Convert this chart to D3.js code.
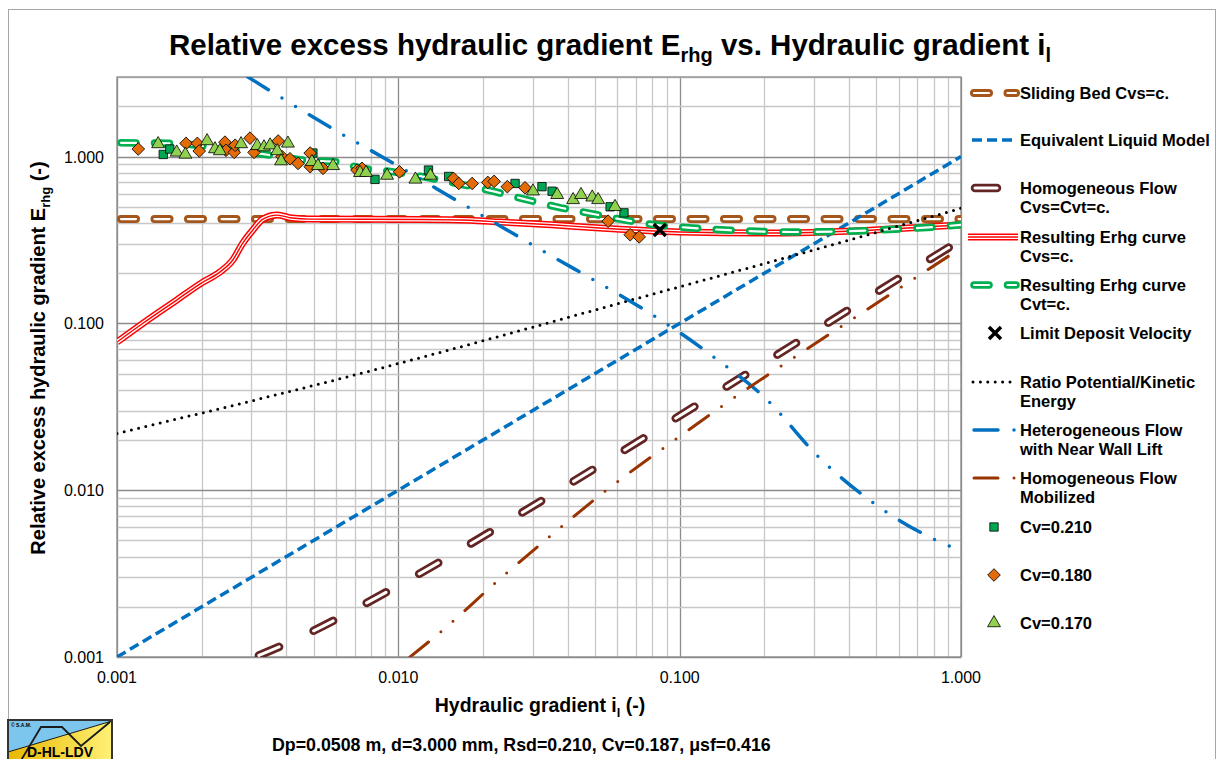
<!DOCTYPE html>
<html><head><meta charset="utf-8">
<script src="https://cdn.jsdelivr.net/npm/d3@7"></script>
<style>body{margin:0;background:#fff;overflow:hidden} text{font-family:"Liberation Sans",Arial,sans-serif;}</style>
</head><body><svg id="c" width="1218" height="759"></svg>
<script>
// ---------- data ----------
const xTickValues = [0.001, 0.01, 0.1, 1];
const xTickLabels = ["0.001", "0.010", "0.100", "1.000"];
const yTickValues = [0.001, 0.01, 0.1, 1];
const yTickLabels = ["0.001", "0.010", "0.100", "1.000"];

const slidingBed = [[0.001, 0.422], [1, 0.422]];
const equivalentLiquid = [[0.001, 0.001], [1, 1]];
const homogeneousCvs = [[0.0031, 0.001], [0.00412, 0.00123], [0.00991, 0.00266], [0.034, 0.0091], [0.1183, 0.0333], [0.914, 0.288], [1, 0.316]];
const resultingCvs = [[0.001, 0.0773], [0.00124, 0.1005], [0.00163, 0.138], [0.002, 0.175], [0.00232, 0.203], [0.00258, 0.24], [0.0028, 0.303], [0.00304, 0.363], [0.0033, 0.422], [0.00371, 0.446], [0.00419, 0.428], [0.00485, 0.422], [0.012, 0.42], [0.018, 0.415], [0.023, 0.405], [0.035, 0.39], [0.052, 0.373], [0.1, 0.353], [0.2, 0.348], [0.475, 0.362], [1, 0.39]];
const resultingCvt = [[0.001, 1.21], [0.0016, 1.2], [0.0025, 1.1], [0.0035, 1.02], [0.0044, 0.96], [0.0064, 0.92], [0.007, 0.87], [0.0096, 0.81], [0.0126, 0.75], [0.0161, 0.69], [0.0208, 0.63], [0.0276, 0.56], [0.0365, 0.5], [0.047, 0.46], [0.0622, 0.42], [0.0817, 0.39], [0.107, 0.375], [0.15, 0.362], [0.25, 0.353], [0.4, 0.357], [0.6, 0.368], [0.8, 0.378], [1, 0.39]];
const limitDeposit = [[0.085, 0.363]];
const ratioPotKin = [[0.001, 0.0219], [0.00558, 0.0445], [0.0963, 0.163], [0.243, 0.25], [1, 0.49]];
const heterogeneous = [[0.00292, 3.0], [0.00596, 1.44], [0.01, 0.877], [0.01671, 0.526], [0.028, 0.316], [0.1293, 0.0646], [0.205, 0.0347], [0.3076, 0.0162], [0.483, 0.00849], [0.801, 0.00509], [1, 0.00434]];
const homogeneousMob = [[0.011, 0.001], [0.01453, 0.00147], [0.0227, 0.00289], [0.0357, 0.00553], [0.0567, 0.01044], [0.0917, 0.0189], [0.15, 0.0342], [0.247, 0.0603], [0.406, 0.1047], [0.67, 0.182], [1, 0.283]];

const cv210 = [[0.00146, 1.03], [0.00154, 1.11], [0.00497, 1.05], [0.00826, 0.73], [0.0128, 0.83], [0.0151, 0.76], [0.026, 0.69], [0.0324, 0.66], [0.0352, 0.62], [0.0566, 0.50], [0.0634, 0.46]];
const cv180 = [[0.00119, 1.11], [0.00176, 1.20], [0.00193, 1.20], [0.00196, 1.08], [0.00242, 1.22], [0.00244, 1.09], [0.00261, 1.06], [0.00263, 1.17], [0.00297, 1.29], [0.00307, 1.06], [0.00374, 1.24], [0.00386, 1.0], [0.00412, 0.97], [0.0044, 0.91], [0.00486, 1.05], [0.00486, 0.87], [0.0054, 0.85], [0.00713, 0.83], [0.00743, 0.85], [0.0101, 0.81], [0.0157, 0.74], [0.0164, 0.69], [0.0183, 0.69], [0.0208, 0.70], [0.0219, 0.71], [0.0244, 0.66], [0.0282, 0.65], [0.0557, 0.41], [0.0667, 0.34], [0.0718, 0.33]];
const cv170 = [[0.0014, 1.19], [0.00163, 1.06], [0.00175, 1.03], [0.00209, 1.24], [0.00223, 1.11], [0.00232, 1.08], [0.00276, 1.19], [0.00315, 1.16], [0.00333, 1.14], [0.0035, 1.17], [0.00371, 1.08], [0.00383, 0.94], [0.00405, 1.20], [0.00493, 0.93], [0.00518, 0.88], [0.00586, 0.88], [0.00731, 0.80], [0.00768, 0.80], [0.00912, 0.77], [0.0115, 0.73], [0.013, 0.77], [0.0301, 0.62], [0.0367, 0.59], [0.0418, 0.55], [0.0446, 0.59], [0.0489, 0.57], [0.0513, 0.55], [0.0589, 0.50]];

const legendLabels = [
  ["Sliding Bed Cvs=c."], ["Equivalent Liquid Model"], ["Homogeneous Flow", "Cvs=Cvt=c."],
  ["Resulting Erhg curve", "Cvs=c."], ["Resulting Erhg curve", "Cvt=c."], ["Limit Deposit Velocity"],
  ["Ratio Potential/Kinetic", "Energy"], ["Heterogeneous Flow", "with Near Wall Lift"], ["Homogeneous Flow", "Mobilized"],
  ["Cv=0.210"], ["Cv=0.180"], ["Cv=0.170"]
];

// ---------- drawing ----------
const svg = d3.select("#c");
const L = 117, R = 961, T = 77, B = 657;
const x = d3.scaleLog().domain([0.001, 1]).range([L, R]);
const y = d3.scaleLog().domain([0.001, 3]).range([B, T]);

// outer chart border
svg.append("rect").attr("x", 8.5).attr("y", 9.5).attr("width", 1207).attr("height", 760)
  .attr("fill", "none").attr("stroke", "#a6a6a6").attr("stroke-width", 1);

// grid
const grid = svg.append("g");
x.ticks().forEach(v => {
  const major = xTickValues.some(t => Math.abs(t - v) / t < 1e-6);
  grid.append("line").attr("x1", Math.round(x(v)) + 0.5).attr("x2", Math.round(x(v)) + 0.5).attr("y1", T).attr("y2", B)
    .attr("stroke", major ? "#8c8c8c" : "#c8c8c8").attr("stroke-width", 1.3);
});
y.ticks().forEach(v => {
  const major = yTickValues.some(t => Math.abs(t - v) / t < 1e-6);
  grid.append("line").attr("y1", Math.round(y(v)) + 0.5).attr("y2", Math.round(y(v)) + 0.5).attr("x1", L).attr("x2", R)
    .attr("stroke", major ? "#8c8c8c" : "#c8c8c8").attr("stroke-width", 1.3);
});
grid.append("rect").attr("x", L).attr("y", T).attr("width", R - L).attr("height", B - T)
  .attr("fill", "none").attr("stroke", "#8c8c8c").attr("stroke-width", 1.3);

// tick labels
xTickValues.forEach((v, i) => svg.append("text").attr("x", x(v)).attr("y", 683).attr("text-anchor", "middle")
  .attr("font-size", 16).text(xTickLabels[i]));
yTickValues.forEach((v, i) => svg.append("text").attr("x", 104).attr("y", y(v) + 6).attr("text-anchor", "end")
  .attr("font-size", 16).text(yTickLabels[i]));

// clip
svg.append("clipPath").attr("id", "pc").append("rect").attr("x", L).attr("y", T).attr("width", R - L).attr("height", B - T);
const plot = svg.append("g").attr("clip-path", "url(#pc)");

const line = d3.line().x(d => x(d[0])).y(d => y(d[1])).curve(d3.curveMonotoneX);

function drawDouble(g, d, color, ow, iw, dash, offset) {
  g.append("path").attr("d", d).attr("fill", "none").attr("stroke", color).attr("stroke-width", ow)
    .attr("stroke-linecap", "round").attr("stroke-dasharray", dash).attr("stroke-dashoffset", offset || 0);
  g.append("path").attr("d", d).attr("fill", "none").attr("stroke", "#fff").attr("stroke-width", iw)
    .attr("stroke-linecap", "round").attr("stroke-dasharray", dash).attr("stroke-dashoffset", offset || 0);
}
function drawTriple(g, d, color) {
  g.append("path").attr("d", d).attr("fill", "none").attr("stroke", color).attr("stroke-width", 7);
  g.append("path").attr("d", d).attr("fill", "none").attr("stroke", "#fff").attr("stroke-width", 4);
  g.append("path").attr("d", d).attr("fill", "none").attr("stroke", color).attr("stroke-width", 1.4);
}
function drawSimple(g, d, color, w, dash, cap) {
  g.append("path").attr("d", d).attr("fill", "none").attr("stroke", color).attr("stroke-width", w)
    .attr("stroke-dasharray", dash).attr("stroke-linecap", cap || "butt");
}
const C = {
  sliding: "#a5561a", equiv: "#0070c0", homo: "#632523", red: "#ff0000", green: "#00b050",
  ratio: "#000", hetero: "#0070c0", mob: "#993300"
};
const dashDD = "24,16,0,16,0,16";

function sliding(g, d) { drawDouble(g, d, C.sliding, 8, 2.2, "15,18.5", -4); }
function equiv(g, d) { drawSimple(g, d, C.equiv, 3.5, "10,5"); }
function homo(g, d) { drawDouble(g, d, C.homo, 8.5, 3, "22,38", -4); }
function red(g, d) { drawTriple(g, d, C.red); }
function green(g, d) { drawDouble(g, d, C.green, 7.5, 2.2, "15,18.5", -4); }
function ratio(g, d) { drawSimple(g, d, C.ratio, 3, "0,7.4", "round"); }
function hetero(g, d) { drawSimple(g, d, C.hetero, 3.5, dashDD, "round"); }
function mob(g, d) { drawSimple(g, d, C.mob, 3, dashDD, "round"); }

sliding(plot, line(slidingBed));
equiv(plot, line(equivalentLiquid));
homo(plot, line(homogeneousCvs));
red(plot, line(resultingCvs));
green(plot, line(resultingCvt));
ratio(plot, line(ratioPotKin));
hetero(plot, line(heterogeneous));
mob(plot, line(homogeneousMob));

// markers
const sq = d3.symbol().type(d3.symbolSquare).size(70)();
const dia = d3.symbol().type(d3.symbolSquare).size(80)();
const tri = d3.symbol().type(d3.symbolTriangle).size(72)();
function markers(g, data, path, fill, rot) {
  g.selectAll(null).data(data).enter().append("path").attr("d", path)
    .attr("transform", d => `translate(${x(d[0])},${y(d[1])}) rotate(${rot || 0})`)
    .attr("fill", fill).attr("stroke", "#000").attr("stroke-width", 0.8);
}
function xMark(g, cx, cy) {
  const s = 6;
  g.append("path").attr("d", `M${cx - s},${cy - s}L${cx + s},${cy + s}M${cx - s},${cy + s}L${cx + s},${cy - s}`)
    .attr("stroke", "#000").attr("stroke-width", 3.5).attr("fill", "none");
}
const mk = svg.append("g");
markers(mk, cv210, sq, "#00a651");
markers(mk, cv180, dia, "#e36c09", 45);
markers(mk, cv170, tri, "#92d050");
limitDeposit.forEach(d => xMark(mk, x(d[0]), y(d[1])));

// legend
const lg = svg.append("g");
const rowY = [93, 140, 188, 237, 285, 333, 382, 430, 478, 527, 575, 623];
const legendDraw = [
  g => sliding(g, "M970,0L1016,0"),
  g => equiv(g, "M972,0L1014,0"),
  g => homo(g, "M971,0L1016,0"),
  g => red(g, "M968,0L1018,0"),
  g => green(g, "M970,0L1016,0"),
  g => xMark(g, 995, 0),
  g => ratio(g, "M973,0L1016,0"),
  g => hetero(g, "M974,0L1018,0"),
  g => mob(g, "M974,0L1018,0")
];
const legendMarks = [[sq, "#00a651", 0], [dia, "#e36c09", 45], [tri, "#92d050", 0]];
legendLabels.forEach((lines, i) => {
  const g = lg.append("g").attr("transform", `translate(0,${rowY[i]})`);
  if (i >= 9) {
    const m = legendMarks[i - 9];
    g.append("path").attr("d", m[0]).attr("transform", `translate(994,0) rotate(${m[2]})`)
      .attr("fill", m[1]).attr("stroke", "#000").attr("stroke-width", 0.8);
  } else legendDraw[i](g);
  lines.forEach((t, j) => g.append("text").attr("x", 1020).attr("y", 6 + j * 19).attr("font-size", 16.5)
    .attr("font-weight", "bold").text(t));
});

// title
const title = svg.append("text").attr("x", 610).attr("y", 55).attr("text-anchor", "middle")
  .attr("font-size", 29.5).attr("font-weight", "bold");
title.append("tspan").text("Relative excess hydraulic gradient E");
title.append("tspan").attr("font-size", 20).attr("dy", 7).text("rhg");
title.append("tspan").attr("dy", -7).text(" vs. Hydraulic gradient i");
title.append("tspan").attr("font-size", 20).attr("dy", 7).text("l");

// axis titles
const xt = svg.append("text").attr("x", 540).attr("y", 712).attr("text-anchor", "middle")
  .attr("font-size", 19.5).attr("font-weight", "bold");
xt.append("tspan").text("Hydraulic gradient i");
xt.append("tspan").attr("font-size", 13).attr("dy", 5).text("l");
xt.append("tspan").attr("dy", -5).text(" (-)");

const yt = svg.append("text").attr("transform", "translate(45,358) rotate(-90)").attr("text-anchor", "middle")
  .attr("font-size", 20).attr("font-weight", "bold");
yt.append("tspan").text("Relative excess hydraulic gradient E");
yt.append("tspan").attr("font-size", 13).attr("dy", 5).text("rhg");
yt.append("tspan").attr("dy", -5).text(" (-)");

// footer
svg.append("text").attr("x", 272).attr("y", 751).attr("font-size", 17.8).attr("font-weight", "bold")
  .text("Dp=0.0508 m, d=3.000 mm, Rsd=0.210, Cv=0.187, μsf=0.416");

// logo
const logo = svg.append("g");
const grad = svg.append("defs").append("linearGradient").attr("id", "yl").attr("x1", 0).attr("x2", 1);
grad.append("stop").attr("offset", 0).attr("stop-color", "#e8b800");
grad.append("stop").attr("offset", 1).attr("stop-color", "#fff176");
logo.append("rect").attr("x", 8).attr("y", 720).attr("width", 104).attr("height", 45).attr("fill", "#7cc6ee");
logo.append("path").attr("d", "M8,752L112,721L112,765L8,765Z").attr("fill", "url(#yl)");
logo.append("path").attr("d", "M20,762L41,727L62,727L81,746L110,722").attr("fill", "none").attr("stroke", "#1a1a1a").attr("stroke-width", 1.8);
logo.append("line").attr("x1", 8).attr("y1", 752).attr("x2", 112).attr("y2", 721).attr("stroke", "#1a1a1a").attr("stroke-width", 1);
logo.append("rect").attr("x", 8).attr("y", 720).attr("width", 104).attr("height", 45).attr("fill", "none").attr("stroke", "#333").attr("stroke-width", 2);
logo.append("text").attr("x", 60).attr("y", 757).attr("text-anchor", "middle").attr("font-size", 14).attr("font-weight", "bold").text("D-HL-LDV");
logo.append("text").attr("x", 11).attr("y", 727).attr("font-size", 5).attr("font-weight", "bold").text("© S.A.M.");
</script></body></html>
